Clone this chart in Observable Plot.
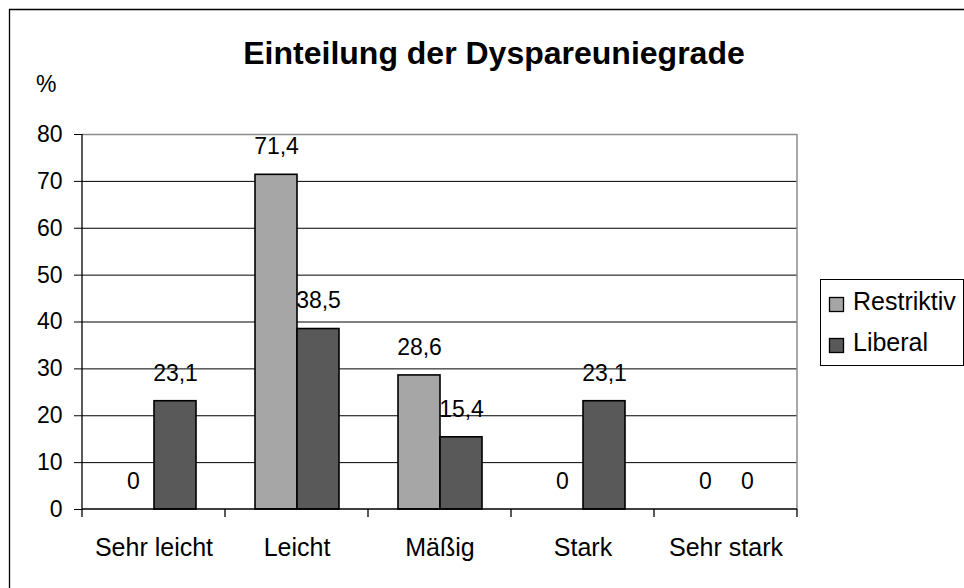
<!DOCTYPE html>
<html>
<head>
<meta charset="utf-8">
<script src="https://cdn.jsdelivr.net/npm/d3@7"></script>
<script src="https://cdn.jsdelivr.net/npm/@observablehq/plot@0.6"></script>
<style>
  html, body { margin: 0; padding: 0; background: #fff; }
  #chart svg { display: block; }
</style>
</head>
<body>
<div id="chart"></div>
<script>
const categories = ["Sehr leicht", "Leicht", "Mäßig", "Stark", "Sehr stark"];
const seriesNames = ["Restriktiv", "Liberal"];
const restriktiv = [0, 71.4, 28.6, 0, 0];
const liberal = [23.1, 38.5, 15.4, 23.1, 0];
const yTicks = [0, 10, 20, 30, 40, 50, 60, 70, 80];
const seriesColors = ["#A6A6A6", "#595959"];
const title = "Einteilung der Dyspareuniegrade";
const yUnit = "%";

const data = categories.flatMap((c, i) => [
  {cat: c, series: seriesNames[0], value: restriktiv[i]},
  {cat: c, series: seriesNames[1], value: liberal[i]}
]);
const fmt = v => String(v).replace(".", ",");
const FONT = "Arial, 'Liberation Sans', sans-serif";

const plot = Plot.plot({
  width: 964,
  height: 588,
  marginLeft: 82,
  marginRight: 167,
  marginTop: 134,
  marginBottom: 79,
  style: {fontFamily: FONT, fontSize: "23px", color: "#000", background: "#fff", overflow: "visible"},
  fx: {domain: categories, padding: 0, label: null},
  x: {domain: seriesNames, paddingInner: 0, paddingOuter: 0.663, axis: null},
  y: {domain: [0, 80], axis: null},
  color: {domain: seriesNames, range: seriesColors},
  marks: [
    Plot.ruleY(yTicks.filter(t => t > 0 && t < 80), {stroke: "#000", strokeWidth: 1}),
    Plot.ruleY([80], {stroke: "#8c8c8c", strokeWidth: 1.5}),
    Plot.barY(data.filter(d => d.value > 0), {fx: "cat", x: "series", y: "value", fill: "series", stroke: "#000", strokeWidth: 1.6}),
    Plot.text(data, {fx: "cat", x: "series", y: "value", text: d => fmt(d.value), dy: -28, lineAnchor: "middle", fontSize: 23, fill: "#000"}),
    Plot.axisFx({anchor: "bottom", tickSize: 0, tickPadding: 29, fontSize: 25, label: null, fill: "#000"}),
    Plot.axisY(yTicks, {anchor: "left", tickSize: 8, tickPadding: 12, fontSize: 23, label: null, stroke: "#000", fill: "#000"})
  ]
});

document.getElementById("chart").append(plot);

const svg = d3.select(plot);
const fxS = plot.scale("fx");
const yS = plot.scale("y");
const colorS = plot.scale("color");
const band = d3.scaleBand().domain(fxS.domain).range(fxS.range).paddingInner(0).paddingOuter(0);
const yLin = d3.scaleLinear().domain(yS.domain).range(yS.range);
const x0 = band.range()[0], x1 = band.range()[1];
const y0 = yLin(0), yTop = yLin(80);

const g = svg.append("g");
g.append("line").attr("x1", x1).attr("x2", x1).attr("y1", yTop).attr("y2", y0)
  .attr("stroke", "#8c8c8c").attr("stroke-width", 1.5);
g.append("line").attr("x1", x0).attr("x2", x0).attr("y1", yTop).attr("y2", y0)
  .attr("stroke", "#000").attr("stroke-width", 1.3);
g.append("line").attr("x1", x0).attr("x2", x1).attr("y1", y0).attr("y2", y0)
  .attr("stroke", "#000").attr("stroke-width", 1.3);
const bounds = categories.map(c => band(c)).concat([band(categories[categories.length - 1]) + band.bandwidth()]);
g.selectAll("line.bt").data(bounds).join("line").attr("class", "bt")
  .attr("x1", d => d).attr("x2", d => d).attr("y1", y0).attr("y2", y0 + 8)
  .attr("stroke", "#000").attr("stroke-width", 1.3);

svg.append("path").attr("d", "M9.5,588V9.5H964").attr("fill", "none").attr("stroke", "#000").attr("stroke-width", 1.3);

svg.append("text").attr("x", 494).attr("y", 64).attr("text-anchor", "middle")
  .attr("font-family", FONT).attr("font-size", 32).attr("font-weight", "bold").attr("fill", "#000").text(title);
svg.append("text").attr("x", 36).attr("y", 92).attr("text-anchor", "start")
  .attr("font-family", FONT).attr("font-size", 23).attr("fill", "#000").text(yUnit);

const lg = svg.append("g");
lg.append("rect").attr("x", 820.5).attr("y", 279.5).attr("width", 143).attr("height", 86)
  .attr("fill", "#fff").attr("stroke", "#000").attr("stroke-width", 1);
seriesNames.forEach((s, i) => {
  const yy = 297 + i * 41;
  lg.append("rect").attr("x", 829.5).attr("y", yy + 0.5).attr("width", 14).attr("height", 14)
    .attr("fill", colorS.apply(s)).attr("stroke", "#000").attr("stroke-width", 1.3);
  lg.append("text").attr("x", 853).attr("y", yy + 13).attr("text-anchor", "start")
    .attr("font-family", FONT).attr("font-size", 25).attr("fill", "#000").text(s);
});
</script>
</body>
</html>
